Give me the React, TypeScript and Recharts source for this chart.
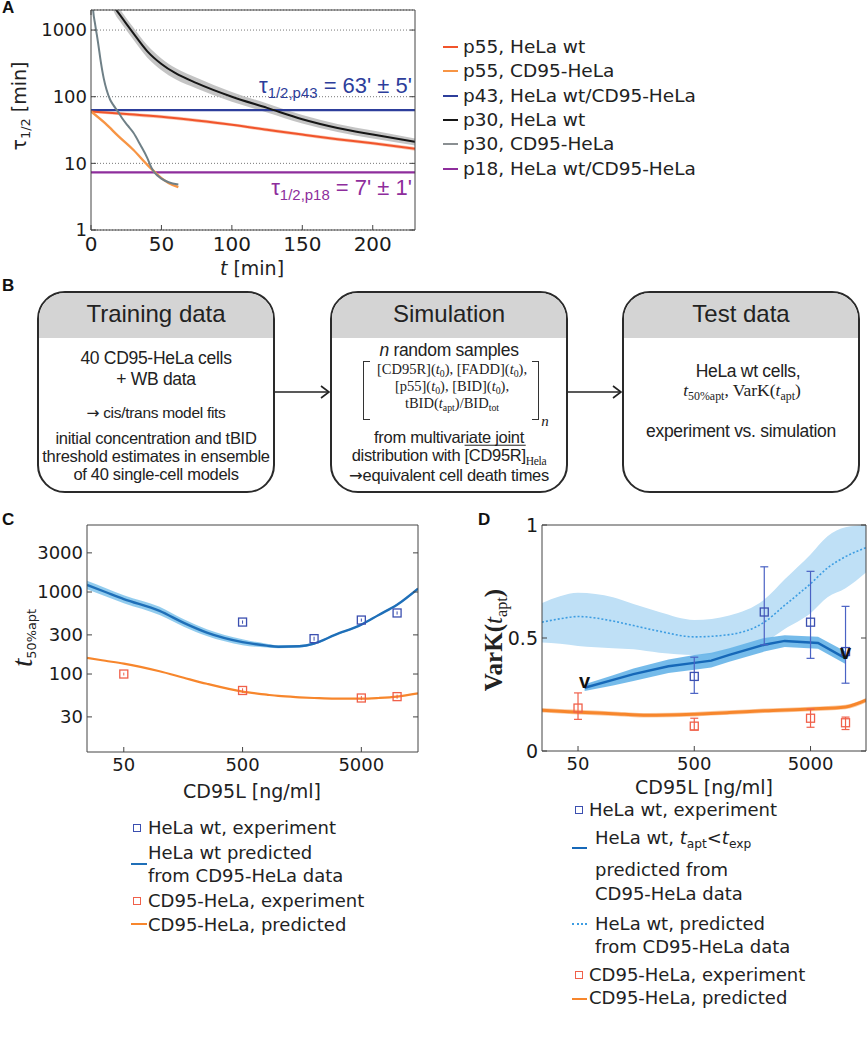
import React from 'react'
import { ComposedChart, Line, Area, Scatter, ErrorBar, XAxis, YAxis, CartesianGrid } from 'recharts'

// ---------- Panel A: tau_1/2 over time ----------
const aTicksX = [0, 50, 100, 150, 200]
const aTicksY = [1, 10, 100, 1000]

const p55WtT = [0, 25, 50, 75, 100, 125, 150, 175, 200, 230]
const p55WtTau = [60, 55, 50, 44, 38, 32, 27, 23, 20, 16.5]
const p55WtLo = [57, 52, 47, 41.5, 36, 30, 25.5, 21.6, 18.8, 15.5]
const p55WtHi = [63, 58, 53, 46.5, 40, 34, 28.6, 24.4, 21.3, 17.6]

const p55CdT = [0, 10, 20, 30, 40, 45, 50, 55, 62]
const p55CdTau = [60, 40, 25, 16, 9.5, 7.5, 6, 5.1, 4.4]

const p43T = [0, 230]
const p43Tau = [63, 63]
const p18T = [0, 230]
const p18Tau = [7.3, 7.3]

const p30WtT = [15, 18, 20, 25, 30, 40, 50, 60, 75, 100, 125, 150, 175, 200, 230]
const p30WtTau = [2700, 2000, 1750, 1250, 900, 480, 310, 225, 160, 100, 68, 46, 34, 27, 21]
const p30WtLo = [2160, 1600, 1400, 1000, 720, 385, 250, 183, 133, 84, 58, 39.5, 29.5, 23.5, 18.5]
const p30WtHi = [3300, 2440, 2130, 1520, 1100, 590, 375, 270, 193, 118, 79, 53, 39, 31, 23.5]

const p30CdT = [1, 1.5, 3, 5, 7, 9, 11, 13.6, 16, 18.4, 22, 26, 30, 35, 40, 43, 45, 50, 55, 62]
const p30CdTau = [2800, 2000, 1200, 650, 330, 190, 128, 90, 74, 63, 48, 37, 29, 19, 12, 8.5, 7.3, 5.9, 5.2, 4.8]

// ---------- Panel C: t50%apt vs CD95L ----------
const doseTicks = [50, 500, 5000]
const cTicksY = [30, 100, 300, 1000, 3000]

const cDose = [24.5, 35, 50, 100, 160, 250, 500, 800, 1000, 1500, 2000, 3000, 5000, 7000, 10000, 15000]
const cWtPred = [1220, 1000, 820, 590, 420, 320, 245, 222, 215, 218, 235, 300, 400, 525, 700, 1100]
const cWtLo = [1080, 890, 730, 525, 378, 290, 225, 210, 206, 210, 227, 292, 390, 512, 683, 1075]
const cWtHi = [1370, 1120, 915, 660, 465, 352, 265, 234, 224, 226, 243, 308, 410, 538, 717, 1125]
const cCdPred = [157, 145, 134, 108, 90, 76, 61, 56, 54, 52, 51, 50, 50, 51, 53, 58]

const cWtExpDose = [500, 2000, 5000, 10000]
const cWtExp = [430, 270, 455, 555]
const cWtExpErr = [20, 15, 20, 25]
const cCdExpDose = [50, 500, 5000, 10000]
const cCdExp = [100, 63, 51, 53]
const cCdExpErr = [4, 4, 3, 3]

// ---------- Panel D: VarK(t_apt) vs CD95L ----------
const dTicksY = [0, 0.5, 1]

const dDose = [24.5, 35, 50, 100, 150, 250, 500, 1000, 2000, 3000, 5000, 7000, 10000, 15000]
const dWtPred = [0.57, 0.585, 0.595, 0.575, 0.555, 0.53, 0.505, 0.515, 0.57, 0.645, 0.74, 0.81, 0.86, 0.9]
const dWtPredLo = [0.48, 0.475, 0.465, 0.455, 0.45, 0.435, 0.425, 0.43, 0.48, 0.54, 0.61, 0.68, 0.72, 0.79]
const dWtPredHi = [0.655, 0.685, 0.7, 0.68, 0.65, 0.615, 0.58, 0.6, 0.67, 0.76, 0.87, 0.95, 0.99, 1.0]

const dEarlyDose = [57, 100, 150, 300, 500, 700, 1000, 2000, 3000, 5800, 10000]
const dEarly = [0.28, 0.315, 0.34, 0.375, 0.39, 0.4, 0.425, 0.47, 0.487, 0.478, 0.41]
const dEarlyLo = [0.265, 0.29, 0.31, 0.345, 0.36, 0.37, 0.395, 0.44, 0.46, 0.452, 0.385]
const dEarlyHi = [0.295, 0.335, 0.365, 0.405, 0.425, 0.435, 0.455, 0.5, 0.512, 0.505, 0.44]

const dCdDose = [24.5, 50, 100, 200, 500, 1000, 2000, 5000, 10000, 15000]
const dCdPred = [0.18, 0.172, 0.165, 0.158, 0.163, 0.17, 0.178, 0.186, 0.195, 0.225]
const dCdLo = [0.17, 0.162, 0.155, 0.148, 0.153, 0.16, 0.168, 0.176, 0.185, 0.215]
const dCdHi = [0.19, 0.182, 0.175, 0.168, 0.173, 0.18, 0.188, 0.196, 0.205, 0.235]

const dWtExpDose = [500, 2000, 5000, 10000]
const dWtExp = [0.33, 0.615, 0.57, 0.44]
const dWtExpErrLo = [0.075, 0.145, 0.16, 0.14]
const dWtExpErrHi = [0.085, 0.2, 0.225, 0.2]
const dCdExpDose = [50, 500, 5000, 10000]
const dCdExp = [0.19, 0.11, 0.145, 0.125]
const dCdExpErrLo = [0.05, 0.017, 0.04, 0.03]
const dCdExpErrHi = [0.067, 0.035, 0.04, 0.025]

const dMarkDose = [57, 10000]
const dMarkVal = [0.3, 0.43]

type Series = { key: string; xs: number[]; ys: (number | number[])[] }

function mergeRows(xKey: string, series: Series[]) {
  const map = new Map<number, Record<string, any>>()
  for (const s of series) {
    s.xs.forEach((x, i) => {
      if (!map.has(x)) map.set(x, { [xKey]: x })
      map.get(x)![s.key] = s.ys[i]
    })
  }
  return [...map.values()].sort((a, b) => a[xKey] - b[xKey])
}

const pair = (lo: number[], hi: number[]) => lo.map((v, i) => [v, hi[i]])

const aRows = mergeRows('t', [
  { key: 'p55Wt', xs: p55WtT, ys: p55WtTau },
  { key: 'p55WtBand', xs: p55WtT, ys: pair(p55WtLo, p55WtHi) },
  { key: 'p55Cd', xs: p55CdT, ys: p55CdTau },
  { key: 'p43', xs: p43T, ys: p43Tau },
  { key: 'p18', xs: p18T, ys: p18Tau },
  { key: 'p30Wt', xs: p30WtT, ys: p30WtTau },
  { key: 'p30WtBand', xs: p30WtT, ys: pair(p30WtLo, p30WtHi) },
  { key: 'p30Cd', xs: p30CdT, ys: p30CdTau },
])

const cRows = mergeRows('dose', [
  { key: 'wt', xs: cDose, ys: cWtPred },
  { key: 'wtBand', xs: cDose, ys: pair(cWtLo, cWtHi) },
  { key: 'cd', xs: cDose, ys: cCdPred },
])

const dRows = mergeRows('dose', [
  { key: 'wt', xs: dDose, ys: dWtPred },
  { key: 'wtBand', xs: dDose, ys: pair(dWtPredLo, dWtPredHi) },
  { key: 'early', xs: dEarlyDose, ys: dEarly },
  { key: 'earlyBand', xs: dEarlyDose, ys: pair(dEarlyLo, dEarlyHi) },
  { key: 'cd', xs: dCdDose, ys: dCdPred },
  { key: 'cdBand', xs: dCdDose, ys: pair(dCdLo, dCdHi) },
])

const cWtPts = cWtExpDose.map((d, i) => ({ dose: d, y: cWtExp[i], err: cWtExpErr[i] }))
const cCdPts = cCdExpDose.map((d, i) => ({ dose: d, y: cCdExp[i], err: cCdExpErr[i] }))
const dWtPts = dWtExpDose.map((d, i) => ({ dose: d, y: dWtExp[i], err: [dWtExpErrLo[i], dWtExpErrHi[i]] }))
const dCdPts = dCdExpDose.map((d, i) => ({ dose: d, y: dCdExp[i], err: [dCdExpErrLo[i], dCdExpErrHi[i]] }))
const dMarks = dMarkDose.map((d, i) => ({ dose: d, y: dMarkVal[i] }))

const C = {
  p55Wt: '#f1542b', p55WtBand: '#f9b89e', p55Cd: '#f79545', p43: '#2d3e9b',
  p30Wt: '#161616', p30WtBand: '#bababa', p30Cd: '#6f8087', p18: '#8e2d9c',
  wtLine: '#1f6fb8', wtBand: '#86c6ec', wtSq: '#3b4fb0', cdLine: '#f7862c', cdSq: '#f0604a',
  dotted: '#3d9de2', dottedBand: '#bfe0f6', early: '#1668b8', earlyBand: '#66b4e8', cdBand: '#fbc59a',
}

const axisStroke = '#444'
const sans = 'DejaVu Sans, sans-serif'
const arial = 'Liberation Sans, Arial, sans-serif'
const serif = 'Liberation Serif, Times New Roman, serif'
const tickStyle = (size: number) => ({ fontSize: size, fill: '#1a1a1a', fontFamily: sans })
const blank = () => ''

const square = (color: string) => (p: any) => (
  <rect x={p.cx - 4} y={p.cy - 4} width={8} height={8} fill="none" stroke={color} strokeWidth={1.3} />
)
const vMark = (p: any) => (
  <text x={p.cx} y={p.cy + 5} textAnchor="middle" fontSize={20} fontWeight="bold" fontFamily={arial} fill="#111">v</text>
)

const Sub = ({ children }: any) => (
  <span style={{ fontSize: '0.68em', position: 'relative', top: '0.32em' }}>{children}</span>
)
const Arrow = () => <span style={{ fontFamily: sans }}>→</span>

const Txt = ({ x, y, size = 16, left = false, rotate = false, children, style }: any) => (
  <div
    style={{
      position: 'absolute', left: x, top: y, fontSize: size, lineHeight: 1, whiteSpace: 'nowrap',
      transform: `translate(${left ? '0' : '-50%'}, -50%)${rotate ? ' rotate(-90deg)' : ''}`,
      ...style,
    }}
  >
    {children}
  </div>
)

const Mark = ({ x1, x2, y, color, dotted = false }: any) => (
  <div style={{ position: 'absolute', left: x1, top: y - 1, width: x2 - x1, borderTop: `${dotted ? 2 : 2.5}px ${dotted ? 'dotted' : 'solid'} ${color}` }} />
)
const SqMark = ({ x, y, color }: any) => (
  <div style={{ position: 'absolute', left: x - 4, top: y - 4, width: 6, height: 6, border: `1.3px solid ${color}` }} />
)

const aLegend = [
  { label: 'p55, HeLa wt', color: C.p55Wt },
  { label: 'p55, CD95-HeLa', color: C.p55Cd },
  { label: 'p43, HeLa wt/CD95-HeLa', color: C.p43 },
  { label: 'p30, HeLa wt', color: C.p30Wt },
  { label: 'p30, CD95-HeLa', color: '#8a8f92' },
  { label: 'p18, HeLa wt/CD95-HeLa', color: C.p18 },
]

function PanelA() {
  return (
    <>
      <div style={{ position: 'absolute', left: 0, top: 0 }}>
        <ComposedChart width={420} height={280} data={aRows} margin={{ top: 5, right: 0, bottom: 0, left: 0 }}>
          <CartesianGrid vertical={false} stroke="#777" strokeDasharray="1 2" />
          <XAxis dataKey="t" type="number" domain={[0, 230]} ticks={aTicksX} interval={0} height={50}
            tickSize={-5} tickMargin={12} tick={tickStyle(20)} stroke={axisStroke} allowDataOverflow />
          <XAxis xAxisId="top" orientation="top" type="number" domain={[0, 230]} ticks={aTicksX} interval={0}
            height={5} tickSize={-5} tickFormatter={blank} stroke={axisStroke} allowDataOverflow />
          <YAxis type="number" scale="log" domain={[1, 2000]} ticks={aTicksY} interval={0} width={91}
            tickSize={-5} tickMargin={9} tick={tickStyle(18)} stroke={axisStroke} allowDataOverflow />
          <YAxis yAxisId="right" orientation="right" type="number" scale="log" domain={[1, 2000]} ticks={aTicksY}
            interval={0} width={5} tickSize={-5} tickFormatter={blank} stroke={axisStroke} allowDataOverflow />
          <Area type="monotone" dataKey="p30WtBand" stroke="none" fill={C.p30WtBand} fillOpacity={0.85} connectNulls isAnimationActive={false} />
          <Area type="monotone" dataKey="p55WtBand" stroke="none" fill={C.p55WtBand} fillOpacity={0.8} connectNulls isAnimationActive={false} />
          <Line dataKey="p43" stroke={C.p43} strokeWidth={2.2} dot={false} connectNulls isAnimationActive={false} />
          <Line dataKey="p18" stroke={C.p18} strokeWidth={2.2} dot={false} connectNulls isAnimationActive={false} />
          <Line type="monotone" dataKey="p55Wt" stroke={C.p55Wt} strokeWidth={2} dot={false} connectNulls isAnimationActive={false} />
          <Line type="monotone" dataKey="p55Cd" stroke={C.p55Cd} strokeWidth={2.4} dot={false} connectNulls isAnimationActive={false} />
          <Line type="monotone" dataKey="p30Wt" stroke={C.p30Wt} strokeWidth={2} dot={false} connectNulls isAnimationActive={false} />
          <Line type="monotone" dataKey="p30Cd" stroke={C.p30Cd} strokeWidth={2} dot={false} connectNulls isAnimationActive={false} />
        </ComposedChart>
      </div>
      <Txt x={412} y={86} size={22} style={{ color: C.p43, fontFamily: arial, transform: 'translate(-100%, -50%)' }}>
        τ<Sub>1/2,p43</Sub> = 63' ± 5'
      </Txt>
      <Txt x={412} y={188} size={22} style={{ color: C.p18, fontFamily: arial, transform: 'translate(-100%, -50%)' }}>
        τ<Sub>1/2,p18</Sub> = 7' ± 1'
      </Txt>
      <Txt x={19} y={106} size={19} rotate style={{ fontFamily: sans }}>τ<Sub>1/2</Sub> [min]</Txt>
      <Txt x={252} y={268} size={19} style={{ fontFamily: sans }}><i>t</i> [min]</Txt>
      {aLegend.map((it, i) => (
        <React.Fragment key={it.label}>
          <Mark x1={443} x2={458} y={47 + i * 24.3} color={it.color} />
          <Txt x={463} y={47 + i * 24.3} size={18.5} left style={{ fontFamily: sans, color: '#222' }}>{it.label}</Txt>
        </React.Fragment>
      ))}
    </>
  )
}

function PanelB() {
  const box = (left: number) => ({
    position: 'absolute' as const, left, top: 291, width: 238, height: 202, border: '2px solid #2a2a2a',
    borderRadius: 28, overflow: 'hidden', boxSizing: 'border-box' as const, background: '#fff',
  })
  const head = { height: 45, background: '#d4d4d4' }
  const body = { fontFamily: arial, color: '#222', letterSpacing: -0.3 }
  const ser = { fontFamily: serif, color: '#222' }
  const bracket = (left: number, side: 'l' | 'r') => ({
    position: 'absolute' as const, left, top: 361, width: 6, height: 57,
    borderTop: '1.3px solid #333', borderBottom: '1.3px solid #333',
    [side === 'l' ? 'borderLeft' : 'borderRight']: '1.3px solid #333',
  })
  return (
    <>
      <svg width={867} height={520} style={{ position: 'absolute', left: 0, top: 0 }}>
        <line x1={275} y1={392} x2={329} y2={392} stroke="#222" strokeWidth={1.6} />
        <polyline points="321,386 329,392 321,398" fill="none" stroke="#222" strokeWidth={1.6} />
        <line x1={568} y1={392} x2={621} y2={392} stroke="#222" strokeWidth={1.6} />
        <polyline points="613,386 621,392 613,398" fill="none" stroke="#222" strokeWidth={1.6} />
      </svg>
      <div style={box(37)}><div style={head} /></div>
      <div style={box(330)}><div style={head} /></div>
      <div style={box(622)}><div style={head} /></div>

      <Txt x={156} y={314} size={24} style={{ fontFamily: arial, color: '#222' }}>Training data</Txt>
      <Txt x={156} y={359} size={17.5} style={body}>40 CD95-HeLa cells</Txt>
      <Txt x={156} y={380} size={17.5} style={body}>+ WB data</Txt>
      <Txt x={156} y={413} size={15.5} style={body}><Arrow /> cis/trans model fits</Txt>
      <Txt x={156} y={438} size={16.5} style={body}>initial concentration and tBID</Txt>
      <Txt x={156} y={456} size={16.5} style={body}>threshold estimates in ensemble</Txt>
      <Txt x={156} y={474} size={16.5} style={body}>of 40 single-cell models</Txt>

      <Txt x={449} y={314} size={24} style={{ fontFamily: arial, color: '#222' }}>Simulation</Txt>
      <Txt x={449} y={351} size={17.5} style={body}><i>n</i> random samples</Txt>
      <div style={bracket(363, 'l')} />
      <div style={bracket(532, 'r')} />
      <Txt x={452} y={369} size={14.5} style={ser}>[CD95R](<i>t</i><Sub>0</Sub>), [FADD](<i>t</i><Sub>0</Sub>),</Txt>
      <Txt x={452} y={386} size={14.5} style={ser}>[p55](<i>t</i><Sub>0</Sub>), [BID](<i>t</i><Sub>0</Sub>),</Txt>
      <Txt x={452} y={403} size={14.5} style={ser}>tBID(<i>t</i><Sub>apt</Sub>)/BID<Sub>tot</Sub></Txt>
      <Txt x={545} y={421} size={15} style={ser}><i>n</i></Txt>
      <Txt x={449} y={437} size={16.5} style={body}>from multivariate joint</Txt>
      <Txt x={449} y={455} size={16.5} style={body}>
        distribution with <span style={{ textDecoration: 'overline' }}>[CD95R]</span><span style={{ ...ser, fontSize: '0.7em', position: 'relative', top: '0.35em' }}>Hela</span>
      </Txt>
      <Txt x={449} y={476} size={16.5} style={body}><Arrow />equivalent cell death times</Txt>

      <Txt x={741} y={314} size={24} style={{ fontFamily: arial, color: '#222' }}>Test data</Txt>
      <Txt x={748} y={372} size={17.5} style={body}>HeLa wt cells,</Txt>
      <Txt x={742} y={391} size={17.5} style={ser}>
        <i>t</i><Sub>50%apt</Sub>, VarK(<i>t</i><Sub>apt</Sub>)
      </Txt>
      <Txt x={741} y={432} size={17.5} style={body}>experiment vs. simulation</Txt>
    </>
  )
}

function PanelC() {
  return (
    <>
      <div style={{ position: 'absolute', left: 0, top: 515 }}>
        <ComposedChart width={430} height={280} data={cRows} margin={{ top: 0, right: 0, bottom: 0, left: 0 }}>
          <XAxis dataKey="dose" type="number" scale="log" domain={[24.5, 15000]} ticks={doseTicks} interval={0}
            height={43} tickSize={-5} tickMargin={11} tick={tickStyle(18)} stroke={axisStroke} allowDataOverflow />
          <XAxis xAxisId="top" orientation="top" type="number" scale="log" domain={[24.5, 15000]} ticks={doseTicks}
            interval={0} height={10} tickSize={-5} tickFormatter={blank} stroke={axisStroke} allowDataOverflow />
          <YAxis type="number" scale="log" domain={[11.2, 6560]} ticks={cTicksY} interval={0} width={87}
            tickSize={-5} tickMargin={9} tick={tickStyle(18)} stroke={axisStroke} allowDataOverflow />
          <YAxis yAxisId="right" orientation="right" type="number" scale="log" domain={[11.2, 6560]} ticks={cTicksY}
            interval={0} width={12} tickSize={-5} tickFormatter={blank} stroke={axisStroke} allowDataOverflow />
          <Area type="monotone" dataKey="wtBand" stroke="none" fill={C.wtBand} fillOpacity={0.9} connectNulls isAnimationActive={false} />
          <Line type="monotone" dataKey="wt" stroke={C.wtLine} strokeWidth={2.4} dot={false} connectNulls isAnimationActive={false} />
          <Line type="monotone" dataKey="cd" stroke={C.cdLine} strokeWidth={2.2} dot={false} connectNulls isAnimationActive={false} />
          <Scatter data={cWtPts} dataKey="y" shape={square(C.wtSq)} isAnimationActive={false}>
            <ErrorBar dataKey="err" direction="y" width={0} stroke={C.wtSq} strokeWidth={1} />
          </Scatter>
          <Scatter data={cCdPts} dataKey="y" shape={square(C.cdSq)} isAnimationActive={false}>
            <ErrorBar dataKey="err" direction="y" width={0} stroke={C.cdSq} strokeWidth={1} />
          </Scatter>
        </ComposedChart>
      </div>
      <Txt x={22} y={638} size={19} rotate style={{ fontFamily: sans }}>
        <span style={{ fontFamily: serif, fontStyle: 'italic', fontSize: 30 }}>t</span><Sub>50%apt</Sub>
      </Txt>
      <Txt x={252} y={791} size={19} style={{ fontFamily: sans }}>CD95L [ng/ml]</Txt>
      <SqMark x={137} y={828} color={C.wtSq} />
      <Txt x={148} y={828} size={18} left style={{ fontFamily: sans }}>HeLa wt, experiment</Txt>
      <Mark x1={131} x2={147} y={864} color={C.wtLine} />
      <Txt x={148} y={853} size={18} left style={{ fontFamily: sans }}>HeLa wt predicted</Txt>
      <Txt x={148} y={876} size={18} left style={{ fontFamily: sans }}>from CD95-HeLa data</Txt>
      <SqMark x={137} y={901} color={C.cdSq} />
      <Txt x={148} y={901} size={18} left style={{ fontFamily: sans }}>CD95-HeLa, experiment</Txt>
      <Mark x1={131} x2={147} y={924} color={C.cdLine} />
      <Txt x={148} y={925} size={18} left style={{ fontFamily: sans }}>CD95-HeLa, predicted</Txt>
    </>
  )
}

function PanelD() {
  return (
    <>
      <div style={{ position: 'absolute', left: 440, top: 515 }}>
        <ComposedChart width={427} height={280} data={dRows} margin={{ top: 0, right: 0, bottom: 0, left: 0 }}>
          <XAxis dataKey="dose" type="number" scale="log" domain={[24.5, 15000]} ticks={doseTicks} interval={0}
            height={44} tickSize={-5} tickMargin={11} tick={tickStyle(18)} stroke={axisStroke} allowDataOverflow />
          <XAxis xAxisId="top" orientation="top" type="number" scale="log" domain={[24.5, 15000]} ticks={doseTicks}
            interval={0} height={10} tickSize={-5} tickFormatter={blank} stroke={axisStroke} allowDataOverflow />
          <YAxis type="number" domain={[0, 1]} ticks={dTicksY} interval={0} width={102}
            tickSize={-5} tickMargin={9} tick={tickStyle(19)} stroke={axisStroke} allowDataOverflow />
          <YAxis yAxisId="right" orientation="right" type="number" domain={[0, 1]} ticks={dTicksY}
            interval={0} width={1} tickSize={-5} tickFormatter={blank} stroke={axisStroke} allowDataOverflow />
          <Area type="monotone" dataKey="wtBand" stroke="none" fill={C.dottedBand} fillOpacity={1} connectNulls isAnimationActive={false} />
          <Area dataKey="earlyBand" stroke="none" fill={C.earlyBand} fillOpacity={0.9} connectNulls isAnimationActive={false} />
          <Area type="monotone" dataKey="cdBand" stroke="none" fill={C.cdBand} fillOpacity={0.9} connectNulls isAnimationActive={false} />
          <Line type="monotone" dataKey="wt" stroke={C.dotted} strokeWidth={1.6} strokeDasharray="2 2" dot={false} connectNulls isAnimationActive={false} />
          <Line dataKey="early" stroke={C.early} strokeWidth={2.4} dot={false} connectNulls isAnimationActive={false} />
          <Line type="monotone" dataKey="cd" stroke={C.cdLine} strokeWidth={3} dot={false} connectNulls isAnimationActive={false} />
          <Scatter data={dWtPts} dataKey="y" shape={square(C.wtSq)} isAnimationActive={false}>
            <ErrorBar dataKey="err" direction="y" width={4} stroke="#4a62c4" strokeWidth={1.2} />
          </Scatter>
          <Scatter data={dCdPts} dataKey="y" shape={square(C.cdSq)} isAnimationActive={false}>
            <ErrorBar dataKey="err" direction="y" width={4} stroke={C.cdSq} strokeWidth={1.2} />
          </Scatter>
          <Scatter data={dMarks} dataKey="y" shape={vMark} isAnimationActive={false} />
        </ComposedChart>
      </div>
      <Txt x={493} y={640} size={25} rotate style={{ fontFamily: serif, fontWeight: 'bold', color: '#222' }}>
        VarK(<i style={{ fontWeight: 'normal' }}>t</i><span style={{ fontWeight: 'normal', fontSize: '0.65em', position: 'relative', top: '0.3em' }}>apt</span>)
      </Txt>
      <Txt x={704} y={787} size={19} style={{ fontFamily: sans }}>CD95L [ng/ml]</Txt>
      <SqMark x={579} y={810} color={C.wtSq} />
      <Txt x={589} y={810} size={18} left style={{ fontFamily: sans }}>HeLa wt, experiment</Txt>
      <Mark x1={572} x2={587} y={848} color={C.early} />
      <Txt x={595} y={838} size={18} left style={{ fontFamily: sans }}>
        HeLa wt, <i>t</i><Sub>apt</Sub>&lt;<i>t</i><Sub>exp</Sub>
      </Txt>
      <Txt x={595} y={870} size={18} left style={{ fontFamily: sans }}>predicted from</Txt>
      <Txt x={595} y={894} size={18} left style={{ fontFamily: sans }}>CD95-HeLa data</Txt>
      <Mark x1={572} x2={587} y={924} color={C.dotted} dotted />
      <Txt x={595} y={924} size={18} left style={{ fontFamily: sans }}>HeLa wt, predicted</Txt>
      <Txt x={595} y={947} size={18} left style={{ fontFamily: sans }}>from CD95-HeLa data</Txt>
      <SqMark x={579} y={975} color={C.cdSq} />
      <Txt x={589} y={975} size={18} left style={{ fontFamily: sans }}>CD95-HeLa, experiment</Txt>
      <Mark x1={572} x2={587} y={999} color={C.cdLine} />
      <Txt x={589} y={998} size={18} left style={{ fontFamily: sans }}>CD95-HeLa, predicted</Txt>
    </>
  )
}

export default function App() {
  const label = { fontFamily: arial, fontWeight: 'bold' as const, fontSize: 17, color: '#111', position: 'absolute' as const }
  return (
    <div style={{ position: 'absolute', left: 0, top: 0, width: 867, height: 1050, background: '#fff', fontFamily: arial, color: '#222' }}>
      <PanelB />
      <PanelA />
      <PanelC />
      <PanelD />
      <div style={{ ...label, left: 2, top: -2 }}>A</div>
      <div style={{ ...label, left: 2, top: 276 }}>B</div>
      <div style={{ ...label, left: 2, top: 510 }}>C</div>
      <div style={{ ...label, left: 478, top: 510 }}>D</div>
    </div>
  )
}
